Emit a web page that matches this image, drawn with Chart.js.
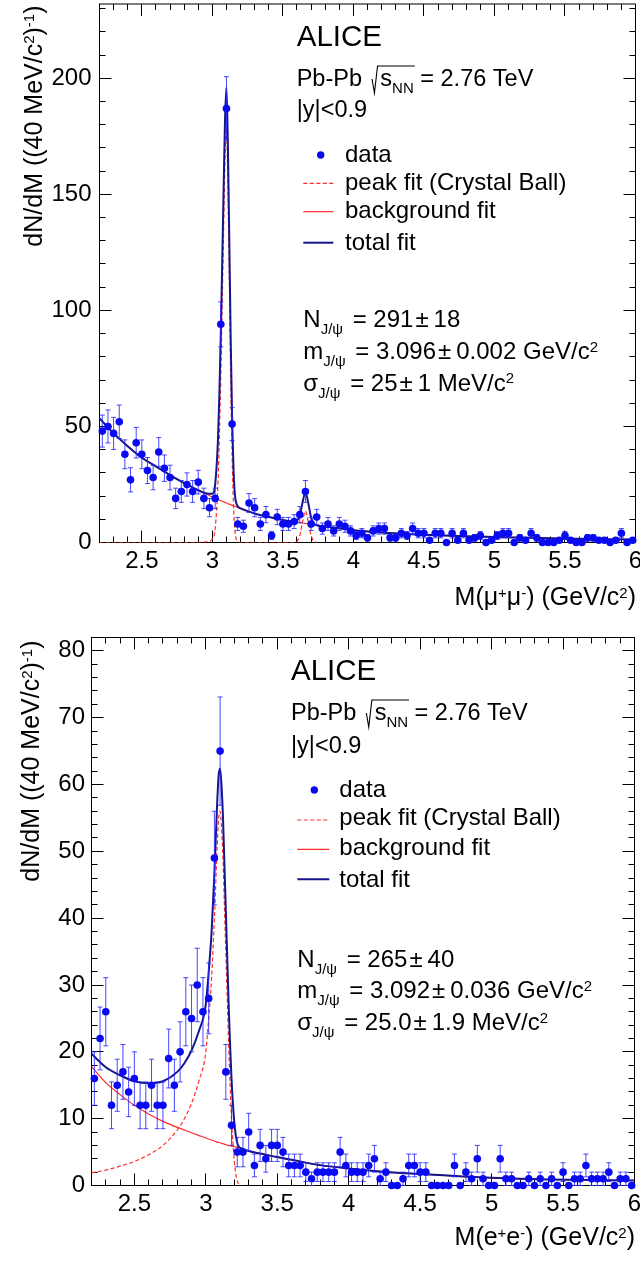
<!DOCTYPE html>
<html>
<head>
<meta charset="utf-8">
<script src="https://cdn.jsdelivr.net/npm/chart.js@4.4.1/dist/chart.umd.min.js"></script>
<style>
  body { margin: 0; background: #fff; width: 640px; height: 1262px; overflow: hidden; position: relative; }
  canvas { position: absolute; left: 0; }
  #mumu { top: 0; }
  #ee { top: 620px; }
</style>
</head>
<body>
<canvas id="mumu" width="640" height="620"></canvas>
<canvas id="ee" width="640" height="642"></canvas>
<script>
// 40 MeV bins, 2.2 - 6.0 GeV/c^2
const binCenters = [
  2.22, 2.26, 2.30, 2.34, 2.38, 2.42, 2.46, 2.50, 2.54, 2.58, 2.62, 2.66, 2.70, 2.74, 2.78, 2.82,
  2.86, 2.90, 2.94, 2.98, 3.02, 3.06, 3.10, 3.14, 3.18, 3.22, 3.26, 3.30, 3.34, 3.38, 3.42, 3.46,
  3.50, 3.54, 3.58, 3.62, 3.66, 3.70, 3.74, 3.78, 3.82, 3.86, 3.90, 3.94, 3.98, 4.02, 4.06, 4.10,
  4.14, 4.18, 4.22, 4.26, 4.30, 4.34, 4.38, 4.42, 4.46, 4.50, 4.54, 4.58, 4.62, 4.66, 4.70, 4.74,
  4.78, 4.82, 4.86, 4.90, 4.94, 4.98, 5.02, 5.06, 5.10, 5.14, 5.18, 5.22, 5.26, 5.30, 5.34, 5.38,
  5.42, 5.46, 5.50, 5.54, 5.58, 5.62, 5.66, 5.70, 5.74, 5.78, 5.82, 5.86, 5.90, 5.94, 5.98
];

// dimuon panel
const countsMuMu = [
  48, 50, 47, 52, 38, 27, 43, 38, 31, 28, 39, 32, 28, 19, 22, 25, 22, 26, 19, 15, 19, 94, 187, 51,
  8, 7, 17, 15, 8, 12, 3, 11, 8, 8, 9, 12, 22, 8, 11, 6, 8, 5, 8, 7, 5, 3,
  4, 2, 5, 6, 6, 2, 2, 4, 3, 6, 4, 4, 1, 4, 4, 0, 4, 1, 4, 1, 2, 3, 0, 1, 3, 4, 4, 0, 2,
  1, 4, 2, 0, 0, 0, 1, 3, 1, 0, 0, 2, 2, 1, 1, 0, 1, 4, 0, 1
];
const errorsMuMu = [
  6.9, 7.1, 6.9, 7.2, 6.2, 5.2, 6.6, 6.2, 5.6, 5.3, 6.2, 5.7, 5.3, 4.4, 4.7, 5.0, 4.7, 5.1, 4.4, 3.9, 4.4, 9.7, 13.7, 7.1,
  2.8, 2.6, 4.1, 3.9, 2.8, 3.5, 1.7, 3.3, 2.8, 2.8, 3.0, 3.5, 4.7, 2.8, 3.3, 2.4, 2.8, 2.2, 2.8, 2.6, 2.2, 1.7,
  2.0, 1.4, 2.2, 2.4, 2.4, 1.4, 1.4, 2.0, 1.7, 2.4, 2.0, 2.0, 1.0, 2.0, 2.0, 0, 2.0, 1.0, 2.0, 1.0, 1.4, 1.7, 0, 1.0, 1.7, 2.0, 2.0, 0, 1.4,
  1.0, 2.0, 1.4, 0, 0, 0, 1.0, 1.7, 1.0, 0, 0, 1.4, 1.4, 1.0, 1.0, 0, 1.0, 2.0, 0, 1.0
];
const fitMassMuMu = [
  2.2, 2.3, 2.4, 2.5, 2.6, 2.7, 2.8, 2.9, 2.96, 3.0, 3.02, 3.04, 3.05, 3.06, 3.07, 3.08, 3.09, 3.10,
  3.11, 3.12, 3.13, 3.14, 3.15, 3.16, 3.18, 3.2, 3.25, 3.3, 3.4, 3.5, 3.58, 3.6, 3.62, 3.64, 3.66,
  3.68, 3.7, 3.72, 3.74, 3.8, 3.9, 4.0, 4.2, 4.4, 4.6, 4.8, 5.0, 5.2, 5.4, 5.6, 5.8, 6.0
];
const bkgFitMuMu = [
  53.5, 47.0, 41.5, 36.5, 32.8, 29.0, 25.6, 22.5, 20.8, 19.5, 19.0, 18.5, 18.3, 18.0, 17.8, 17.5, 17.3, 17.0,
  16.8, 16.5, 16.3, 16.0, 15.8, 15.6, 15.1, 14.7, 13.5, 12.5, 11.0, 9.7, 9.0, 8.8, 8.6, 8.4, 8.2,
  8.0, 7.8, 7.6, 7.4, 6.9, 6.1, 5.3, 4.3, 3.6, 3.1, 2.7, 2.4, 2.1, 1.8, 1.6, 1.4, 1.3
];
const peakFitMuMu = [
  0, 0, 0, 0, 0, 0, 0, 0, 0.3, 1.5, 6, 26, 46, 72, 103, 135, 165, 179,
  155, 115, 72, 38, 16, 5, 0.5, 0, 0, 0, 0, 0, 0, 0.5, 3, 9, 13.5,
  9, 3, 0.6, 0, null, null, null, null, null, null, null, null, null, null, null, null, null
];
const totalFitMuMu = [
  53.5, 47.0, 41.5, 36.5, 32.8, 29.0, 25.6, 22.5, 21.1, 21.0, 25.0, 44.5, 64.3, 90.0, 120.8, 152.5, 182.3, 196.0,
  171.8, 131.5, 88.3, 54.0, 31.8, 20.6, 15.6, 14.7, 13.5, 12.5, 11.0, 9.7, 9.0, 9.3, 11.6, 17.4, 21.7,
  17.0, 10.8, 8.2, 7.4, 6.9, 6.1, 5.3, 4.3, 3.6, 3.1, 2.7, 2.4, 2.1, 1.8, 1.6, 1.4, 1.3
];

// dielectron panel
const countsEE = [
  16, 22, 26, 12, 15, 17, 14, 16, 12, 12, 15, 12, 12, 19, 15, 20, 26, 25, 30, 26, 28, 49, 65,
  17, 9, 5, 5, 8, 3, 6, 4, 6, 6, 5, 3, 3, 3, 2, 1, 2, 2, 2, 2, 5, 3, 2, 2, 2, 3,
  4, 1, 2, 0, 0, 1, 3, 3, 2, 2, 0, 0, 0, 0, 3, 0, 2, 1, 4, 1, 0, 0, 4, 1, 1,
  0, 0, 1, 0, 1, 0, 1, 0, 2, 0, 1, 1, 3, 1, 1, 1, 2, 0, 1, 1, 0
];
const errorsEE = [
  4.0, 4.7, 5.1, 3.5, 3.9, 4.1, 3.7, 4.0, 3.5, 3.5, 3.9, 3.5, 3.5, 4.4, 3.9, 4.5, 5.1, 5.0, 5.5, 5.1, 5.3, 7.0, 8.1,
  4.1, 3.0, 2.2, 2.2, 2.8, 1.7, 2.4, 2.0, 2.4, 2.4, 2.2, 1.7, 1.7, 1.7, 1.4, 1.0, 1.4, 1.4, 1.4, 1.4, 2.2, 1.7, 1.4, 1.4, 1.4, 1.7,
  2.0, 1.0, 1.4, 0, 0, 1.0, 1.7, 1.7, 1.4, 1.4, 0, 0, 0, 0, 1.7, 0, 1.4, 1.0, 2.0, 1.0, 0, 0, 2.0, 1.0, 1.0,
  0, 0, 1.0, 0, 1.0, 0, 1.0, 0, 1.4, 0, 1.0, 1.0, 1.7, 1.0, 1.0, 1.0, 1.4, 0, 1.0, 1.0, 0
];
const fitMassEE = [
  2.2, 2.3, 2.4, 2.5, 2.6, 2.7, 2.8, 2.85, 2.9, 2.95, 3.0, 3.02, 3.04, 3.06, 3.08, 3.09, 3.10, 3.11,
  3.12, 3.13, 3.14, 3.15, 3.16, 3.17, 3.18, 3.19, 3.20, 3.21, 3.22, 3.23, 3.25, 3.3, 3.4, 3.5, 3.6,
  3.8, 4.0, 4.2, 4.4, 4.6, 4.8, 5.0, 5.2, 5.4, 5.6, 5.8, 6.0
];
const bkgFitEE = [
  17.8, 15.4, 13.6, 12.0, 10.7, 9.6, 8.7, 8.3, 7.9, 7.5, 7.1, 6.95, 6.8, 6.65, 6.5, 6.45, 6.4, 6.3,
  6.25, 6.2, 6.1, 6.05, 6.0, 5.95, 5.9, 5.85, 5.8, 5.75, 5.7, 5.65, 5.55, 5.15, 4.7, 4.25, 3.85,
  3.05, 2.55, 2.15, 1.85, 1.6, 1.35, 1.15, 1.0, 0.9, 0.85, 0.8, 0.75
];
const peakFitEE = [
  1.9, 2.3, 2.9, 3.6, 4.6, 6.0, 8.3, 10.0, 12.3, 15.5, 20, 25, 31, 40, 51, 55, 56, 53.5,
  49, 42, 35, 28, 21, 15, 10, 6.3, 3.5, 1.7, 0.7, 0.2, 0, null, null, null, null,
  null, null, null, null, null, null, null, null, null, null, null, null
];
const totalFitEE = [
  19.7, 17.7, 16.5, 15.6, 15.3, 15.6, 17.0, 18.3, 20.2, 23.0, 27.1, 31.95, 37.8, 46.65, 57.5, 61.45, 62.4, 59.8,
  55.25, 48.2, 41.1, 34.05, 27.0, 20.95, 15.9, 12.15, 9.3, 7.45, 6.4, 5.85, 5.55, 5.15, 4.7, 4.25, 3.85,
  3.05, 2.55, 2.15, 1.85, 1.6, 1.35, 1.15, 1.0, 0.9, 0.85, 0.8, 0.75
];

const xTicks = [2.5, 3, 3.5, 4, 4.5, 5, 5.5, 6];
const yTicksMuMu = [0, 50, 100, 150, 200];
const yTicksEE = [0, 10, 20, 30, 40, 50, 60, 70, 80];
const legendLabels = ['data', 'peak fit (Crystal Ball)', 'background fit', 'total fit'];

const FONT = '"Liberation Sans", Arial, Helvetica, sans-serif';
const NAVY = '#16168c';
const RED = '#ff2b2b';
const BLUE = '#0a0af2';
const TEXT_SIZE = 24;
const TITLE_SIZE = 25;

Chart.defaults.font.family = FONT;
Chart.defaults.color = '#000';

function sub(t) { return { t: t, size: 15, dy: 7 }; }
function sup(t) { return { t: t, size: 15, dy: -7.5 }; }
function pm(a, b) { return [{ t: a }, { gap: 2 }, { t: '\u00b1' }, { gap: 5 }, { t: b }]; }

// draws (or only measures) a run of text pieces with sub/superscripts
function runParts(ctx, parts, x, y, size, draw) {
  let cx = x;
  for (const p of parts) {
    if (p.gap) { cx += p.gap; continue; }
    if (p.sqrt) {
      const x0 = cx + 3.5;
      const x1 = runParts(ctx, p.sqrt, x0 + 8.3, y, size, draw);
      if (draw) {
        ctx.save();
        ctx.lineWidth = 1.1;
        ctx.strokeStyle = '#000';
        ctx.beginPath();
        ctx.moveTo(x0, y - 7);
        ctx.lineTo(x0 + 2.4, y + 7);
        ctx.lineTo(x0 + 5.5, y - 20);
        ctx.lineTo(x1 + 1, y - 20);
        ctx.stroke();
        ctx.restore();
      }
      cx = x1;
      continue;
    }
    ctx.font = (p.size || size) + 'px ' + FONT;
    if (draw) ctx.fillText(p.t, cx, y + (p.dy || 0));
    cx += ctx.measureText(p.t).width;
  }
  return cx;
}

function pts(xs, ys) {
  return xs.map((x, i) => ({ x: x, y: ys[i] }));
}

const panels = [
  {
    canvas: 'mumu', height: 620,
    area: { left: 99.5, right: 635.5, top: 2.5, bottom: 542.5 },
    yMax: 232, yTicks: yTicksMuMu, yMinor: 10, yPad: 8, xPad: 4,
    counts: countsMuMu, errors: errorsMuMu,
    fitMass: fitMassMuMu, bkg: bkgFitMuMu, peak: peakFitMuMu, total: totalFitMuMu,
    yTitleX: 41.5, xTitleRight: 636, xTitleY: 605,
    xTitle: [{ t: 'M(\u03bc' }, sup('+'), { t: '\u03bc' }, sup('-'), { t: ') (GeV/c' }, sup('2'), { t: ')' }],
    textX: 296.7, aliceY: 46, energyY: 86, rapY: 117.3,
    legend: { markX: 320.7, textX: 345, line0: 303.3, line1: 333.3,
      rows: [[155, 161.7], [183.3, 190], [211.7, 218.3], [242.7, 250]] },
    resX: 303.3, resY: [327.3, 359, 390.7],
    results: [
      [{ t: 'N' }, sub('J/\u03c8'), { gap: 3 }].concat(pm(' = 291', '18')),
      [{ t: 'm' }, sub('J/\u03c8'), { gap: 3 }].concat(pm(' = 3.096', '0.002 GeV/c'), [sup('2')]),
      [{ t: '\u03c3' }, sub('J/\u03c8'), { gap: 3 }].concat(pm(' = 25', '1 MeV/c'), [sup('2')])
    ]
  },
  {
    canvas: 'ee', height: 642,
    area: { left: 91.5, right: 634.5, top: 17.5, bottom: 565.5 },
    yMax: 82, yTicks: yTicksEE, yMinor: 2, yPad: 6.5, xPad: 4,
    counts: countsEE, errors: errorsEE,
    fitMass: fitMassEE, bkg: bkgFitEE, peak: peakFitEE, total: totalFitEE,
    yTitleX: 39, xTitleRight: 635, xTitleY: 625,
    xTitle: [{ t: 'M(e' }, sup('+'), { t: 'e' }, sup('-'), { t: ') (GeV/c' }, sup('2'), { t: ')' }],
    textX: 291, aliceY: 60, energyY: 100, rapY: 133.3,
    legend: { markX: 314.3, textX: 339.3, line0: 297.3, line1: 329.3,
      rows: [[170, 177.3], [200, 205], [229.3, 235], [259.3, 266.7]] },
    resX: 297.3, resY: [346.7, 378.3, 410],
    results: [
      [{ t: 'N' }, sub('J/\u03c8'), { gap: 3 }].concat(pm(' = 265', '40')),
      [{ t: 'm' }, sub('J/\u03c8'), { gap: 3 }].concat(pm(' = 3.092', '0.036 GeV/c'), [sup('2')]),
      [{ t: '\u03c3' }, sub('J/\u03c8'), { gap: 3 }].concat(pm(' = 25.0', '1.9 MeV/c'), [sup('2')])
    ]
  }
];

const yTitle = [{ t: 'dN/dM ((40 MeV/c' }, sup('2'), { t: ')' }, sup('-1'), { t: ')' }];

function makePanel(P) {
  const a = P.area;

  // ROOT-style box with inward ticks on all four sides
  const framePlugin = {
    id: 'frame',
    beforeDatasetsDraw(chart) {
      const { ctx, chartArea: c, scales: { x, y } } = chart;
      const crisp = v => Math.round(v - 0.5) + 0.5;
      ctx.save();
      ctx.strokeStyle = '#000';
      ctx.lineWidth = 1;
      ctx.strokeRect(c.left, c.top, c.right - c.left, c.bottom - c.top);
      ctx.beginPath();
      for (let k = Math.round(x.min * 10) + 1; k < Math.round(x.max * 10); k++) {
        const v = k / 10;
        const len = xTicks.some(t => Math.abs(t - v) < 1e-6) ? 12 : 6;
        const px = crisp(x.getPixelForValue(v));
        ctx.moveTo(px, c.bottom); ctx.lineTo(px, c.bottom - len);
        ctx.moveTo(px, c.top); ctx.lineTo(px, c.top + len);
      }
      for (let v = P.yMinor; v < y.max; v += P.yMinor) {
        const len = P.yTicks.includes(v) ? 12 : 6;
        const py = crisp(y.getPixelForValue(v));
        ctx.moveTo(c.left, py); ctx.lineTo(c.left + len, py);
        ctx.moveTo(c.right, py); ctx.lineTo(c.right - len, py);
      }
      ctx.stroke();
      ctx.restore();
    }
  };

  // vertical error bars with small end caps, drawn just before the markers
  const errorPlugin = {
    id: 'errorBars',
    beforeDatasetDraw(chart, args) {
      if (args.index !== 0) return;
      const { ctx, scales: { x, y } } = chart;
      const ds = chart.data.datasets[0];
      ctx.save();
      ctx.strokeStyle = 'rgba(40,40,255,0.85)';
      ctx.lineWidth = 1;
      ctx.beginPath();
      ds.data.forEach((p, i) => {
        const e = ds.errors[i];
        if (!e) return;
        const px = x.getPixelForValue(p.x);
        const y1 = y.getPixelForValue(p.y - e);
        const y2 = y.getPixelForValue(p.y + e);
        ctx.moveTo(px, y1); ctx.lineTo(px, y2);
        ctx.moveTo(px - 2.5, y1); ctx.lineTo(px + 2.5, y1);
        ctx.moveTo(px - 2.5, y2); ctx.lineTo(px + 2.5, y2);
      });
      ctx.stroke();
      ctx.restore();
    }
  };

  const textPlugin = {
    id: 'labels',
    afterDraw(chart) {
      const ctx = chart.ctx;
      const L = P.legend;
      ctx.save();
      ctx.fillStyle = '#000';
      ctx.textAlign = 'left';
      ctx.textBaseline = 'alphabetic';

      // axis titles
      const wy = runParts(ctx, yTitle, 0, 0, TITLE_SIZE, false);
      ctx.save();
      ctx.translate(P.yTitleX, a.top + 3);
      ctx.rotate(-Math.PI / 2);
      runParts(ctx, yTitle, -wy, 0, TITLE_SIZE, true);
      ctx.restore();
      const wx = runParts(ctx, P.xTitle, 0, 0, TITLE_SIZE, false);
      runParts(ctx, P.xTitle, P.xTitleRight - wx, P.xTitleY, TITLE_SIZE, true);

      runParts(ctx, [{ t: 'ALICE' }], P.textX, P.aliceY, 29.5, true);
      runParts(ctx, [{ t: 'Pb-Pb ' }, { sqrt: [{ t: 's' }, { t: 'NN', size: 15, dy: 6.5 }] }, { t: ' = 2.76 TeV' }],
        P.textX, P.energyY, 23.5, true);
      runParts(ctx, [{ t: '|y|<0.9' }], P.textX, P.rapY, 23.5, true);

      // legend
      ctx.fillStyle = BLUE;
      ctx.beginPath();
      ctx.arc(L.markX, L.rows[0][0], 3.7, 0, Math.PI * 2);
      ctx.fill();
      const styles = [null, [RED, 1.2, [4, 2.5]], [RED, 1.2, []], [NAVY, 2, []]];
      for (let i = 1; i < 4; i++) {
        ctx.strokeStyle = styles[i][0];
        ctx.lineWidth = styles[i][1];
        ctx.setLineDash(styles[i][2]);
        ctx.beginPath();
        ctx.moveTo(L.line0, L.rows[i][0]);
        ctx.lineTo(L.line1, L.rows[i][0]);
        ctx.stroke();
      }
      ctx.setLineDash([]);
      ctx.fillStyle = '#000';
      legendLabels.forEach((s, i) => runParts(ctx, [{ t: s }], L.textX, L.rows[i][1], TEXT_SIZE, true));

      P.results.forEach((r, i) => runParts(ctx, r, P.resX, P.resY[i], TEXT_SIZE, true));
      ctx.restore();
    }
  };

  const dataset = {
    data: pts(binCenters, P.counts),
    errors: P.errors,
    showLine: false,
    pointRadius: 3.8,
    pointBackgroundColor: BLUE,
    pointBorderWidth: 0,
    clip: false
  };
  const curve = (ys, color, width, dash) => ({
    type: 'line',
    data: pts(P.fitMass, ys),
    borderColor: color,
    borderWidth: width,
    borderDash: dash,
    pointRadius: 0,
    fill: false,
    cubicInterpolationMode: 'monotone'
  });

  new Chart(document.getElementById(P.canvas), {
    type: 'scatter',
    data: {
      datasets: [
        dataset,
        curve(P.total, NAVY, 2, []),
        curve(P.bkg, RED, 1.2, []),
        curve(P.peak, RED, 1.2, [4, 2.5])
      ]
    },
    options: {
      responsive: false,
      animation: false,
      devicePixelRatio: 1,
      events: [],
      layout: { padding: { left: 0, right: 640 - a.right, top: a.top, bottom: 0 } },
      plugins: { legend: { display: false }, tooltip: { enabled: false } },
      scales: {
        x: {
          type: 'linear', position: 'bottom', min: 2.2, max: 6,
          grid: { display: false, drawTicks: false },
          border: { display: false },
          afterBuildTicks: s => { s.ticks = xTicks.map(v => ({ value: v })); },
          afterFit: s => { s.height = P.height - a.bottom; s.paddingLeft = 0; s.paddingRight = 0; },
          ticks: { padding: P.xPad, maxRotation: 0, autoSkip: false, font: { size: 24 }, color: '#000',
            callback: v => String(v) }
        },
        y: {
          type: 'linear', position: 'left', min: 0, max: P.yMax,
          grid: { display: false, drawTicks: false },
          border: { display: false },
          afterBuildTicks: s => { s.ticks = P.yTicks.map(v => ({ value: v })); },
          afterFit: s => { s.width = a.left; s.paddingTop = 0; s.paddingBottom = 0; },
          ticks: { padding: P.yPad, autoSkip: false, font: { size: 24 }, color: '#000',
            callback: v => String(v) }
        }
      }
    },
    plugins: [framePlugin, errorPlugin, textPlugin]
  });
}

panels.forEach(makePanel);
</script>
</body>
</html>
